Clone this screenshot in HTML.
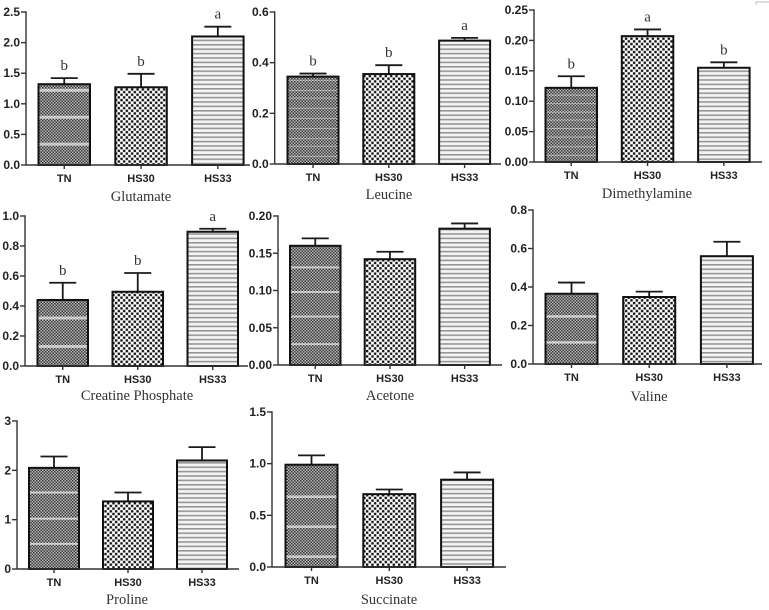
<!DOCTYPE html>
<html lang="en">
<head>
<meta charset="utf-8">
<title>Metabolite bar charts</title>
<style>
html,body{margin:0;padding:0;background:#fff;}
#figure{display:block;width:769px;height:610px;filter:blur(0.35px);}
.tick-label{font:bold 12px "Liberation Sans",sans-serif;fill:#222;}
.cat-label{font:bold 11px "Liberation Sans",sans-serif;fill:#222;text-anchor:middle;}
.panel-title{font:14.5px "Liberation Serif",serif;fill:#333;text-anchor:middle;}
.sig-letter{font:15px "Liberation Serif",serif;fill:#333;text-anchor:middle;}
</style>
</head>
<body>
<svg id="figure" xmlns="http://www.w3.org/2000/svg" width="769" height="610" viewBox="0 0 769 610">
<defs>
<pattern id="pat-tn" patternUnits="userSpaceOnUse" width="3" height="3">
<rect width="3" height="3" fill="#b8b8b8"/>
<rect width="1.5" height="1.5" fill="#383838"/>
<rect x="1.5" y="1.5" width="1.5" height="1.5" fill="#383838"/>
</pattern>
<pattern id="pat-hs30" patternUnits="userSpaceOnUse" width="5.34" height="5.34">
<rect width="5.34" height="5.34" fill="#fff"/>
<rect x="0.15" y="0.15" width="2.37" height="2.37" fill="#111"/>
<rect x="2.82" y="2.82" width="2.37" height="2.37" fill="#111"/>
</pattern>
<pattern id="pat-hs33" patternUnits="userSpaceOnUse" width="4.4" height="4.4">
<rect width="4.4" height="4.4" fill="#f4f4f4"/>
<rect y="0" width="4.4" height="1.6" fill="#969696"/>
</pattern>
</defs>
<g id="panels"></g>
<path d="M756 2H769M756 2V5" fill="none" stroke="#bbb"/>
</svg>
<script>
// Shared category labels
const categories = ["TN", "HS30", "HS33"];

// Bar heights
const glutamateValues = [1.32, 1.27, 2.10];
const leucineValues = [0.345, 0.355, 0.487];
const dimethylamineValues = [0.122, 0.207, 0.155];
const creatineValues = [0.44, 0.495, 0.895];
const acetoneValues = [0.160, 0.142, 0.183];
const valineValues = [0.365, 0.348, 0.56];
const prolineValues = [2.05, 1.37, 2.20];
const succinateValues = [0.99, 0.705, 0.845];

// Error bar sizes (upper SEM)
const glutamateErrors = [0.10, 0.22, 0.16];
const leucineErrors = [0.012, 0.035, 0.011];
const dimethylamineErrors = [0.019, 0.011, 0.009];
const creatineErrors = [0.115, 0.125, 0.02];
const acetoneErrors = [0.010, 0.010, 0.007];
const valineErrors = [0.058, 0.028, 0.075];
const prolineErrors = [0.23, 0.18, 0.27];
const succinateErrors = [0.09, 0.045, 0.07];

// Significance letters
const glutamateLetters = ["b", "b", "a"];
const leucineLetters = ["b", "b", "a"];
const dimethylamineLetters = ["b", "a", "b"];
const creatineLetters = ["b", "b", "a"];
const noLetters = ["", "", ""];

// Y tick labels
const glutamateTicks = ["0.0", "0.5", "1.0", "1.5", "2.0", "2.5"];
const leucineTicks = ["0.0", "0.2", "0.4", "0.6"];
const dimethylamineTicks = ["0.00", "0.05", "0.10", "0.15", "0.20", "0.25"];
const creatineTicks = ["0.0", "0.2", "0.4", "0.6", "0.8", "1.0"];
const acetoneTicks = ["0.00", "0.05", "0.10", "0.15", "0.20"];
const valineTicks = ["0.0", "0.2", "0.4", "0.6", "0.8"];
const prolineTicks = ["0", "1", "2", "3"];
const succinateTicks = ["0.0", "0.5", "1.0", "1.5"];

// Light moire bands seen inside the TN bars, in axis units
const glutamateBands = [1.22, 0.78, 0.34];
const leucineBands = [0.33, 0.29, 0.26, 0.22, 0.18, 0.14, 0.10, 0.07, 0.03];
const dimethylamineBands = [0.11, 0.096, 0.082, 0.069, 0.055, 0.041, 0.025, 0.011];
const creatineBands = [0.32, 0.13];
const acetoneBands = [0.131, 0.098, 0.065, 0.028];
const valineBands = [0.247, 0.112];
const prolineBands = [1.55, 1.02, 0.51];
const succinateBands = [0.68, 0.39, 0.10];

// Panel frames (layout only)
const panels = [
  {key:"glutamate", title:"Glutamate", values:glutamateValues, errors:glutamateErrors, letters:glutamateLetters, ticks:glutamateTicks, bands:glutamateBands, axisX:26, top:12, base:165, end:250, firstBar:38.5, step:76.8, barW:51.5, titleX:141, titleY:201, bandH:3, bandO:0.6},
  {key:"leucine", title:"Leucine", values:leucineValues, errors:leucineErrors, letters:leucineLetters, ticks:leucineTicks, bands:leucineBands, axisX:274.7, top:12, base:164, end:501, firstBar:287.5, step:75.8, barW:51, titleX:389, titleY:199, bandH:1, bandO:0.4},
  {key:"dimethylamine", title:"Dimethylamine", values:dimethylamineValues, errors:dimethylamineErrors, letters:dimethylamineLetters, ticks:dimethylamineTicks, bands:dimethylamineBands, axisX:534, top:10, base:162, end:762, firstBar:545.5, step:76.3, barW:51.5, titleX:647, titleY:198, bandH:1, bandO:0.45},
  {key:"creatine-phosphate", title:"Creatine Phosphate", values:creatineValues, errors:creatineErrors, letters:creatineLetters, ticks:creatineTicks, bands:creatineBands, axisX:25, top:216, base:366, end:248, firstBar:37.5, step:75, barW:50.5, titleX:137, titleY:400, bandH:3, bandO:0.6},
  {key:"acetone", title:"Acetone", values:acetoneValues, errors:acetoneErrors, letters:noLetters, ticks:acetoneTicks, bands:acetoneBands, axisX:278, top:216, base:365, end:502, firstBar:290, step:74.7, barW:50.5, titleX:390, titleY:400, bandH:2, bandO:0.6},
  {key:"valine", title:"Valine", values:valineValues, errors:valineErrors, letters:noLetters, ticks:valineTicks, bands:valineBands, axisX:533, top:210, base:364, end:762, firstBar:545.5, step:77.7, barW:52, titleX:649, titleY:401, bandH:2.4, bandO:0.65},
  {key:"proline", title:"Proline", values:prolineValues, errors:prolineErrors, letters:noLetters, ticks:prolineTicks, bands:prolineBands, axisX:17, top:421, base:569, end:239, firstBar:29, step:74, barW:50, titleX:127, titleY:604, bandH:2, bandO:0.65},
  {key:"succinate", title:"Succinate", values:succinateValues, errors:succinateErrors, letters:noLetters, ticks:succinateTicks, bands:succinateBands, axisX:272, top:412, base:567, end:506, firstBar:285.5, step:77.8, barW:52, titleX:389, titleY:604, bandH:2.6, bandO:0.6}
];

const SVG_NS = "http://www.w3.org/2000/svg";
const fills = ["url(#pat-tn)", "url(#pat-hs30)", "url(#pat-hs33)"];
const root = document.getElementById("panels");

function make(parent, tag, props, text) {
  const node = document.createElementNS(SVG_NS, tag);
  for (const k in props) node.setAttribute(k, props[k]);
  if (text !== undefined) node.textContent = text;
  parent.appendChild(node);
  return node;
}

panels.forEach(function (p) {
  const yMax = parseFloat(p.ticks[p.ticks.length - 1]);
  const yScale = function (v) { return p.base - (v / yMax) * (p.base - p.top); };
  const xBand = function (i) { return p.firstBar + i * p.step; };

  const g = make(root, "g", {});
  
  

  p.values.forEach(function (v, i) {
    const x = xBand(i), cx = x + p.barW / 2, y = yScale(v);
    const topY = yScale(v + p.errors[i]);

    const err = make(g, "path", {d: "M" + cx + " " + y + "V" + topY + "M" + (cx - 13.5) + " " + topY + "H" + (cx + 13.5), fill: "none", stroke: "#1a1a1a", "stroke-width": 1.8});
    
    

    const bar = make(g, "rect", {x: x, y: y, width: p.barW, height: p.base - y, fill: fills[i]});
    
    

    if (i === 0) {
      p.bands.forEach(function (b) {
        if (b >= v) return;
        const band = make(g, "rect", {x: x + 1, y: yScale(b) - p.bandH / 2, width: p.barW - 2, height: p.bandH, fill: "#fff", opacity: p.bandO});
        
        
      });
    }

    const outline = make(g, "rect", {x: x, y: y, width: p.barW, height: p.base - y, fill: "none", stroke: "#111", "stroke-width": 2});
    
    

    const tick = make(g, "line", {x1: cx, x2: cx, y1: p.base, y2: p.base + 4, stroke: "#333", "stroke-width": 1.4});
    
    

    const cat = make(g, "text", {class: "cat-label", x: cx, y: p.base + 17}, categories[i]);
    
    

    if (p.letters[i]) {
      const letter = make(g, "text", {class: "sig-letter", x: cx, y: topY - 8}, p.letters[i]);
      
      
    }
  });

  const yAxis = make(g, "line", {x1: p.axisX, x2: p.axisX, y1: p.top - 0.7, y2: p.base, stroke: "#333", "stroke-width": 1.4});
  
  

  const xAxis = make(g, "line", {x1: p.axisX, x2: p.end, y1: p.base, y2: p.base, stroke: "#333", "stroke-width": 1.4});
  
  

  p.ticks.forEach(function (t) {
    const ty = yScale(parseFloat(t));
    const tick = make(g, "line", {x1: p.axisX - 5, x2: p.axisX, y1: ty, y2: ty, stroke: "#333", "stroke-width": 1.4});
    
    

    const label = make(g, "text", {class: "tick-label", x: p.axisX - 6, y: ty + 4, "text-anchor": "end"}, t);
    
    
  });

  const title = make(g, "text", {class: "panel-title", x: p.titleX, y: p.titleY}, p.title);
  
  
});
</script>
</body>
</html>
